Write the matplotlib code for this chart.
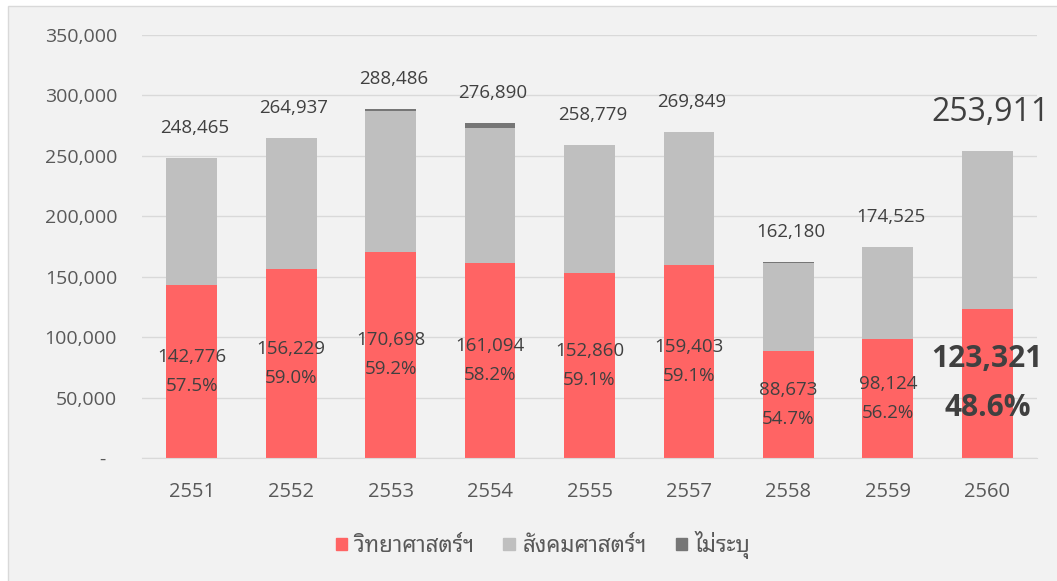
import matplotlib
matplotlib.use("Agg")
import numpy as np
import matplotlib.pyplot as plt
from matplotlib.patches import Patch, Rectangle
from matplotlib.ticker import FuncFormatter, MultipleLocator
from matplotlib.transforms import ScaledTranslation

plt.rcParams['font.family'] = ['Open Sans', 'Noto Sans Thai Looped']

# Data
years = ['2551', '2552', '2553', '2554', '2555', '2557', '2558', '2559', '2560']
totals = [248465, 264937, 288486, 276890, 258779, 269849, 162180, 174525, 253911]
science = [142776, 156229, 170698, 161094, 152860, 159403, 88673, 98124, 123321]
unspecified = [0, 0, 1300, 4100, 0, 0, 800, 0, 0]
series_names = ['วิทยาศาสตร์ฯ', 'สังคมศาสตร์ฯ', 'ไม่ระบุ']

totals = np.array(totals)
science = np.array(science)
unspecified = np.array(unspecified)
social = totals - science - unspecified

RED = '#FF6464'
GRAY = '#BFBFBF'
DARK = '#767676'
BG = '#F2F2F2'
GRID = '#D9D9D9'
TXT = '#595959'
LBL = '#404040'

fig = plt.figure(figsize=(10.57, 5.81), dpi=100, facecolor='white')
fig.patches.append(Rectangle((8 / 1057, -0.01), 1.0, 1 - 6 / 581 + 0.01,
                             transform=fig.transFigure, facecolor=BG,
                             edgecolor=GRID, linewidth=1, zorder=-5))

ax = fig.add_axes([142 / 1057, 1 - 458 / 581, (1037 - 142) / 1057, (458 - 35) / 581])
ax.set_facecolor('none')

x = np.arange(len(years))
w = 0.51
ax.bar(x, science, w, color=RED, zorder=3)
ax.bar(x, social, w, bottom=science, color=GRAY, zorder=3)
ax.bar(x, unspecified, w, bottom=science + social, color=DARK, zorder=3)

ax.set_xlim(-0.5, len(years) - 0.5)
ax.set_ylim(0, 350000)
ax.yaxis.set_major_locator(MultipleLocator(50000))
ax.yaxis.set_major_formatter(FuncFormatter(lambda v, p: '-' if v == 0 else f'{v:,.0f}'))
ax.grid(axis='y', color=GRID, linewidth=1, zorder=0)
ax.set_axisbelow(True)
for s in ['top', 'right', 'left']:
    ax.spines[s].set_visible(False)
ax.spines['bottom'].set_color(GRID)
ax.spines['bottom'].set_zorder(4)

ax.set_xticks(x)
ax.set_xticklabels(years)
ax.tick_params(axis='x', length=0, pad=17, labelsize=14.5, labelcolor=TXT)
ax.tick_params(axis='y', length=0, pad=18, labelsize=14, labelcolor=TXT)
fig.canvas.draw()
for lab in ax.get_yticklabels():
    if lab.get_text() == '-':
        lab.set_transform(lab.get_transform() + ScaledTranslation(-12 / 100, 0, fig.dpi_scale_trans))

# value labels
last = len(years) - 1
for i in range(len(years)):
    big = i == last
    ax.annotate(f'{totals[i]:,}', (x[i], totals[i]), xytext=(2, 28 if big else 21.5),
                textcoords='offset points', ha='center', va='center',
                fontsize=23 if big else 13.5, color=LBL)
    pct = science[i] / totals[i] * 100
    ax.annotate(f'{science[i]:,}\n{pct:.1f}%', (x[i], science[i] / 2), xytext=(0, 0),
                textcoords='offset points', ha='center', va='center',
                fontsize=21.5 if big else 13.5, color=LBL,
                fontweight='bold' if big else 'normal',
                linespacing=1.85 if big else 1.8)

handles = [Patch(color=RED), Patch(color=GRAY), Patch(color=DARK)]
fig.legend(handles, series_names, loc='center', bbox_to_anchor=(543 / 1057, 1 - 545 / 581),
           ncol=3, frameon=False, fontsize=16, labelcolor=TXT, handlelength=0.5,
           handleheight=0.5, handletextpad=0.35, columnspacing=1.3)

fig.savefig('out.png', dpi=100, facecolor=fig.get_facecolor())
